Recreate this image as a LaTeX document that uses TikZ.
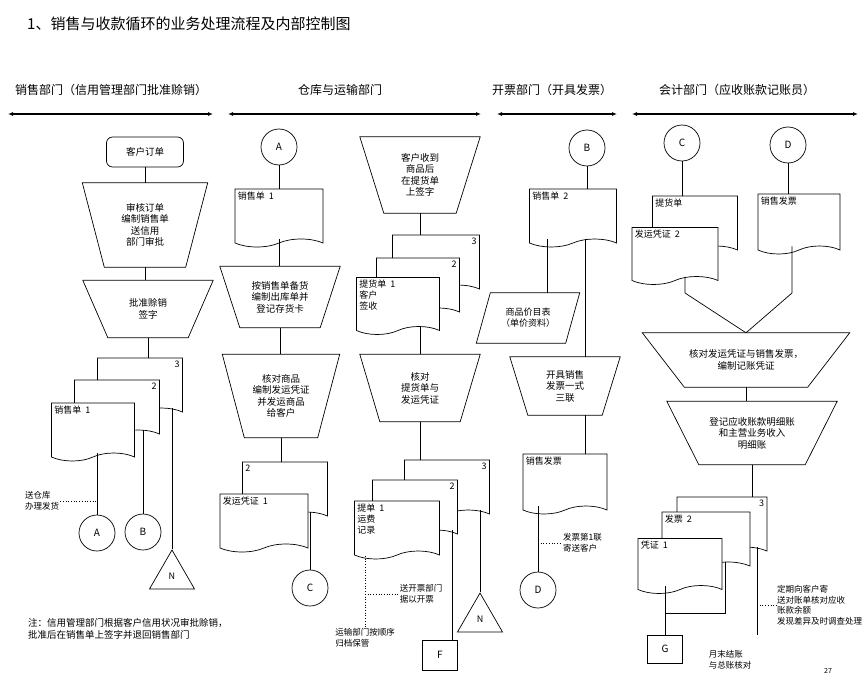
\documentclass[tikz,border=0pt]{standalone}
\usepackage{fontspec}
\setmainfont{Noto Sans CJK SC}
\usetikzlibrary{arrows.meta,shapes.symbols,shapes.geometric}

\tikzset{
  line/.style={line width=.7pt},
  doc/.style={shape=tape, tape bend top=none, tape bend height=8pt, draw, fill=white, line width=.7pt, minimum width=#1, minimum height=58pt, inner sep=0pt},
  doc/.default=86pt,
  doctext/.style={anchor=north west, inner sep=3pt, align=left, font=\fontsize{9}{11}\selectfont},
  docnum/.style={anchor=north east, inner sep=3pt, font=\fontsize{9}{11}\selectfont},
  manop/.style={rectangle, align=center, inner sep=0pt, font=\fontsize{9.5}{11.5}\selectfont,
    append after command={\pgfextra{\draw[line width=.7pt] (\tikzlastnode.north west) -- (\tikzlastnode.north east) -- ([xshift=-#1]\tikzlastnode.south east) -- ([xshift=#1]\tikzlastnode.south west) -- cycle;}}},
  io/.style={rectangle, align=center, inner sep=0pt, font=\fontsize{9}{11}\selectfont,
    append after command={\pgfextra{\draw[line width=.7pt] (\tikzlastnode.south west) -- ([xshift=#1]\tikzlastnode.north west) -- (\tikzlastnode.north east) -- ([xshift=-#1]\tikzlastnode.south east) -- cycle;}}},
  term/.style={rectangle, rounded corners=6pt, draw, line width=.7pt, minimum width=77pt, minimum height=30pt, font=\fontsize{9.5}{11}\selectfont},
  conn/.style={circle, draw, line width=.7pt, minimum size=36pt, inner sep=0pt, font=\fontsize{10}{12}\selectfont},
  store/.style={regular polygon, regular polygon sides=3, draw, line width=.7pt, minimum size=52pt, inner sep=0pt, font=\fontsize{9}{11}\selectfont},
  filebox/.style={rectangle, draw, line width=.7pt, minimum width=35pt, minimum height=30pt, font=\fontsize{10}{12}\selectfont},
  note/.style={align=left, inner sep=1pt, font=\fontsize{8.5}{10.5}\selectfont},
  head/.style={font=\fontsize{12}{14}\selectfont, inner sep=1pt},
  headline/.style={line width=1.8pt, {Latex[length=5pt,width=4pt]}-{Latex[length=5pt,width=4pt]}},
}

\begin{document}
\begin{tikzpicture}[x=1pt,y=-1pt]
\useasboundingbox (0,0) rectangle (866,679);

\node[anchor=west, font=\fontsize{15}{17}\selectfont, inner sep=0pt] (title) at (27,24) {1、销售与收款循环的业务处理流程及内部控制图};

\node[head] (hd1) at (111,90) {销售部门（信用管理部门批准赊销）};
\node[head] (hd2) at (340,90) {仓库与运输部门};
\node[head] (hd3) at (552,90) {开票部门（开具发票）};
\node[head] (hd4) at (737,90) {会计部门（应收账款记账员）};
\coordinate (h1a) at (8,114); \coordinate (h1b) at (213,114);
\coordinate (h2a) at (228,114); \coordinate (h2b) at (481,114);
\coordinate (h3a) at (497,114); \coordinate (h3b) at (617,114);
\coordinate (h4a) at (632,114); \coordinate (h4b) at (858,114);
\draw[headline] (h1a) -- (h1b);
\draw[headline] (h2a) -- (h2b);
\draw[headline] (h3a) -- (h3b);
\draw[headline] (h4a) -- (h4b);

\node[term] (order) at (145,152) {客户订单};
\node[manop=22pt, minimum width=125pt, minimum height=84pt] (check) at (145,225) {审核订单\\编制销售单\\送信用\\部门审批};
\node[manop=25pt, minimum width=130pt, minimum height=57pt] (credit) at (148,309) {批准赊销\\签字};
\node[doc=85pt, label={[docnum]north east:3}] (sale3) at (140,383) {};
\node[doc=85pt, label={[docnum]north east:2}] (sale2) at (117,405) {};
\node[doc=83pt, label={[doctext]north west:销售单\ \ 1}] (sale1) at (93,428) {};
\node[note] (tostore) at (42,501) {送仓库\\办理发货};
\node[conn] (cA1) at (97,533) {A};
\node[conn] (cB1) at (143,532) {B};
\node[store] (file1) at (172,576) {N};
\node[note, anchor=north west, font=\fontsize{9.5}{12}\selectfont] (remark) at (27,617) {注：信用管理部门根据客户信用状况审批赊销，\\批准后在销售单上签字并退回销售部门};

\draw[line] (order) -- (check);
\draw[line] (check.south) -- (check.south |- credit.north);
\draw[line] (credit.south) -- (credit.south |- sale3.north);
\draw[line] (cA1.north |- sale1.south) -- (cA1.north);
\draw[line] (cB1.north |- sale2.south) -- (cB1.north);
\draw[line] (file1.north |- sale3.south) -- (file1.north);
\draw[line, dotted] (tostore.east) -- (cA1.north |- tostore.east);

\node[conn] (cA2) at (279,147) {A};
\node[doc=88pt, label={[doctext]north west:销售单\ \ 1}] (slip1) at (279,214) {};
\node[manop=20pt, minimum width=120pt, minimum height=61pt] (pick) at (280,297) {按销售单备货\\编制出库单并\\登记存货卡};
\node[manop=22pt, minimum width=117pt, minimum height=83pt] (ship) at (281,396) {核对商品\\编制发运凭证\\并发运商品\\给客户};
\node[doc=85pt, label={[doctext]north west:2}] (bill2) at (285,487) {};
\node[doc=88pt, label={[doctext]north west:发运凭证\ \ 1}] (bill1) at (264,519) {};
\node[conn] (cC2) at (310,588) {C};

\draw[line] (cA2) -- (slip1);
\draw[line] (slip1.south) -- (slip1.south |- pick.north);
\draw[line] (pick.south) -- (pick.south |- ship.north);
\draw[line] (ship.south) -- (ship.south |- bill2.north);
\draw[line] (cC2.north |- bill2.south) -- (cC2.north);

\node[manop=24pt, minimum width=120pt, minimum height=76pt] (sign) at (420,175) {客户收到\\商品后\\在提货单\\上签字};
\node[doc=87pt, label={[docnum]north east:3}] (lad3) at (436,260) {};
\node[doc=83pt, label={[docnum]north east:2}] (lad2) at (418,283) {};
\node[doc=83pt, minimum height=57pt, label={[doctext]north west:提货单\ \ 1\\客户\\签收}] (lad1) at (398,302) {};
\node[manop=20pt, minimum width=120pt, minimum height=67pt] (match) at (420,388) {核对\\提货单与\\发运凭证};
\node[doc=85pt, label={[docnum]north east:3}] (tran3) at (447,485) {};
\node[doc=85pt, label={[docnum]north east:2}] (tran2) at (415,505) {};
\node[doc=85pt, label={[doctext]north west:提单\ \ 1\\运费\\记录}] (tran1) at (397,526) {};
\coordinate (tp) at (365,556);
\node[note] (tobill) at (421,594) {送开票部门\\据以开票};
\node[note] (tobill2) at (365,638) {运输部门按顺序\\归档保管};
\node[filebox] (boxF) at (440,655) {F};
\node[store] (file2) at (480,619) {N};

\draw[line] (sign.south) -- (sign.south |- lad3.north);
\draw[line] (match.north |- lad1.south) -- (match.north);
\draw[line] (match.south) -- (match.south |- tran3.north);
\draw[line, dotted] (tp) -- (tobill2.north);
\draw[line, dotted] (tp |- tobill.west) -- (tobill.west);
\draw[line] ([xshift=12pt]boxF.north |- tran2.south) -- ([xshift=12pt]boxF.north);
\draw[line] (file2.north |- tran3.south) -- (file2.north);

\node[conn] (cB3) at (587,148) {B};
\node[doc=87pt, label={[doctext]north west:销售单\ \ 2}] (order2) at (573,214) {};
\node[io=14pt, minimum width=103pt, minimum height=50pt] (price) at (528,318) {商品价目表\\（单价资料）};
\node[manop=18pt, minimum width=110pt, minimum height=58pt] (invoice) at (565,386) {开具销售\\发票一式\\三联};
\node[doc=84pt, minimum height=60pt, label={[doctext]north west:销售发票}] (inv3) at (565,480) {};
\node[note, anchor=west] (tocust) at (562,543) {发票第1联\\寄送客户};
\node[conn] (cD3) at (538,590) {D};

\draw[line] (cB3.south) -- (cB3.south |- order2.north);
\draw[line] ([xshift=19pt]price.north |- order2.south) -- ([xshift=19pt]price.north);
\draw[line] ([xshift=20pt]invoice.north |- order2.south) -- ([xshift=20pt]invoice.north);
\draw[line] ([xshift=20pt]invoice.south) -- ([xshift=20pt]invoice.south |- inv3.north);
\draw[line] (cD3.north |- inv3.south) -- (cD3.north);
\draw[line, dotted] (cD3.north |- tocust.west) -- (tocust.west);

\node[conn] (cC4) at (682,143) {C};
\node[conn] (cD4) at (788,145) {D};
\node[doc=85pt, label={[doctext]north west:提货单}] (post2) at (695,221) {};
\node[doc=86pt, minimum height=57pt, label={[doctext]north west:发运凭证\ \ 2}] (post1) at (675,252) {};
\node[doc=82pt, minimum height=60pt, label={[doctext]north west:销售发票}] (invc) at (799,220) {};
\coordinate (mL) at (685,293);
\coordinate (mR) at (792,293);
\node[manop=42pt, minimum width=207pt, minimum height=54pt] (book) at (746,360) {核对发运凭证与销售发票，\\编制记账凭证};
\node[manop=32pt, minimum width=170pt, minimum height=63pt] (ledger) at (752,433) {登记应收账款明细账\\和主营业务收入\\明细账};
\node[doc=90pt, label={[docnum]north east:3}] (vch3) at (722,522) {};
\node[doc=88pt, label={[doctext]north west:发票\ \ 2}] (vch2) at (706,537) {};
\node[doc=84pt, minimum height=55pt, label={[doctext]north west:凭证\ \ 1}] (vch1) at (680,562) {};
\node[filebox, minimum height=28pt] (boxG) at (665,649) {G};
\coordinate (jG) at (665,613);
\coordinate (eG) at (757,635);
\node[note, anchor=west] (monthly) at (776,605) {定期向客户寄\\送对账单核对应收\\账款余额\\发现差异及时调查处理};
\node[note] (close) at (730,660) {月末结账\\与总账核对};
\node[font=\fontsize{7}{8}\selectfont, inner sep=1pt] (page) at (828,671) {27};

\draw[line] (cC4.south) -- (cC4.south |- post2.north);
\draw[line] (cD4.south) -- (cD4.south |- invc.north);
\draw[line] (mL |- post1.south) -- (mL) -- (book.north);
\draw[line] (mR |- invc.south) -- (mR) -- (book.north);
\draw[line] (book.south) -- (book.south |- ledger.north);
\draw[line] (ledger.south) -- (ledger.south |- vch3.north);
\draw[line] (boxG.north |- vch1.south) -- (boxG.north);
\draw[line] ([xshift=19pt]vch2.south) |- (jG);
\draw[line] (eG |- vch3.south) -- (eG);
\draw[line, dotted] (eG |- monthly.west) -- (monthly.west);
\end{tikzpicture}
\end{document}
